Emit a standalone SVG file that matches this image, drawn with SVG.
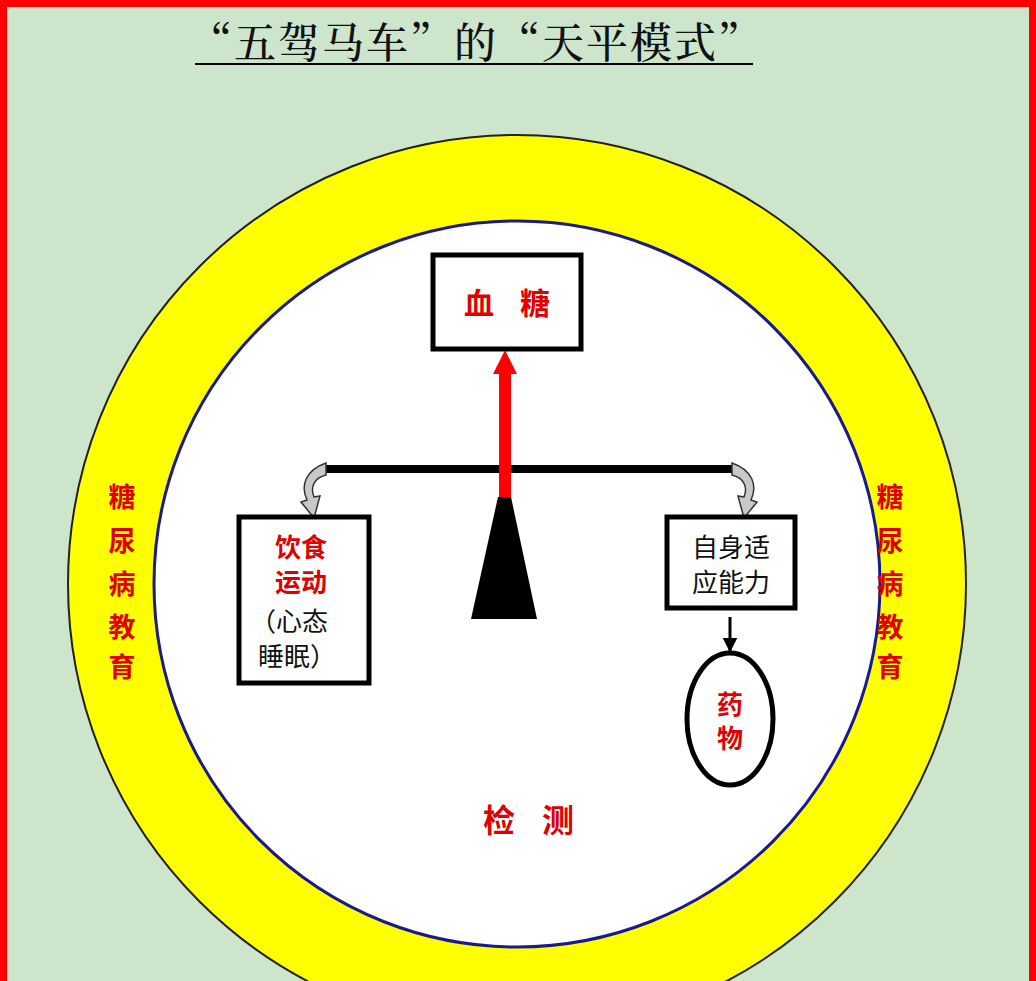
<svg xmlns="http://www.w3.org/2000/svg" width="1036" height="981" viewBox="0 0 1036 981">
<defs>
<style>
.box{fill:#fff;stroke:#000;stroke-width:5}
.red{fill:#e00000;font-family:"Noto Sans CJK SC","Liberation Sans",sans-serif;font-weight:bold}
.blk{fill:#111;font-family:"Noto Sans CJK SC","Liberation Sans",sans-serif}
.side{fill:#e00000;font-family:"Noto Sans CJK SC",sans-serif;font-weight:bold;font-size:27px;text-anchor:middle}
</style>
<marker id="ah" viewBox="0 0 10 10" refX="9" refY="5" markerWidth="5" markerHeight="5" orient="auto"><path d="M0,0 L10,5 L0,10 z" fill="#000"/></marker>
</defs>
<rect x="0" y="0" width="1036" height="981" fill="#cde5cb"/>
<path d="M3.5,985 V3.5 H1032.5 V985" fill="none" stroke="#ff0000" stroke-width="7"/>
<g id="title">
<text x="476" y="58" text-anchor="middle" font-family="'Noto Serif CJK SC','Noto Sans CJK SC',serif" font-size="42" font-weight="500" letter-spacing="2" fill="#111">“五驾马车”的“天平模式”</text>
<line x1="195" y1="64" x2="753" y2="64" stroke="#000" stroke-width="2"/>
</g>
<g id="outer-ring">
<circle cx="517" cy="584" r="449" fill="#ffff00" stroke="#222" stroke-width="2"/>
<circle cx="517" cy="584" r="363" fill="#fff" stroke="#1a1a8c" stroke-width="3"/>
</g>
<g id="education-left">
<text class="side" x="122" y="507">糖</text>
<text class="side" x="122" y="551">尿</text>
<text class="side" x="122" y="594">病</text>
<text class="side" x="122" y="637">教</text>
<text class="side" x="122" y="677">育</text>
</g>
<g id="education-right">
<text class="side" x="890" y="507">糖</text>
<text class="side" x="890" y="551">尿</text>
<text class="side" x="890" y="594">病</text>
<text class="side" x="890" y="637">教</text>
<text class="side" x="890" y="677">育</text>
</g>
<g id="balance">
<line x1="326" y1="469" x2="732" y2="469" stroke="#000" stroke-width="8"/>
<polygon points="498,497 511,497 537,619 471,619" fill="#000"/>
</g>
<g id="connectors">
<line x1="505" y1="497" x2="505" y2="372" stroke="#ff0000" stroke-width="12"/>
<polygon points="493,374 517,374 505,350" fill="#ff0000"/>
<path d="M326,463 C306,470 300,485 307,500 L301,502 L314,518 L320,496 L314,497 C310,487 314,478 326,475 Z" fill="#c8c8c8" stroke="#333" stroke-width="1.5"/>
<path d="M732,463 C752,470 758,485 751,500 L757,502 L744,518 L738,496 L744,497 C748,487 744,478 732,475 Z" fill="#c8c8c8" stroke="#333" stroke-width="1.5"/>
<line x1="730" y1="617" x2="730" y2="651" stroke="#000" stroke-width="3" marker-end="url(#ah)"/>
</g>
<g id="blood-sugar">
<rect class="box" x="433" y="255" width="148" height="94"/>
<text class="red" x="479" y="314" font-size="30" text-anchor="middle">血</text>
<text class="red" x="535" y="314" font-size="30" text-anchor="middle">糖</text>
</g>
<g id="diet-exercise">
<rect class="box" x="239" y="517" width="130" height="166"/>
<text class="red" x="275" y="557" font-size="26">饮食</text>
<text class="red" x="275" y="592" font-size="26">运动</text>
<text class="blk" x="250" y="631" font-size="26">（心态</text>
<text class="blk" x="258" y="666" font-size="26">睡眠）</text>
</g>
<g id="self-adapt">
<rect class="box" x="667" y="517" width="128" height="91"/>
<text class="blk" x="731" y="557" font-size="26" text-anchor="middle">自身适</text>
<text class="blk" x="731" y="592" font-size="26" text-anchor="middle">应能力</text>
</g>
<g id="medicine">
<ellipse cx="730" cy="719" rx="43" ry="66" fill="#fff" stroke="#000" stroke-width="5"/>
<text class="red" x="730" y="714" font-size="26" text-anchor="middle">药</text>
<text class="red" x="730" y="748" font-size="26" text-anchor="middle">物</text>
</g>
<g id="monitoring">
<text class="red" x="499" y="832" font-size="32" text-anchor="middle">检</text>
<text class="red" x="558" y="832" font-size="32" text-anchor="middle">测</text>
</g>
</svg>
